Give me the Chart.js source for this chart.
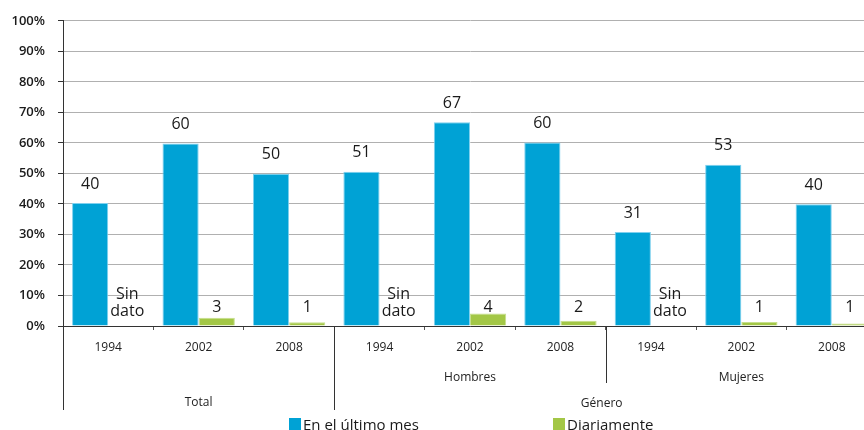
<!DOCTYPE html>
<html>
<head>
<meta charset="utf-8">
<script src="https://cdn.jsdelivr.net/npm/chart.js@4.4.0/dist/chart.umd.min.js"></script>
<style>
  html, body { margin: 0; padding: 0; width: 864px; height: 430px; overflow: hidden; background: #fff; }
  #wrap { position: absolute; left: 0; top: 0; width: 880px; height: 430px; }
  #legend { position: absolute; top: 414px; left: 289px; font-family: "Open Sans", sans-serif; font-size: 15px; color: #1a1a1a; white-space: nowrap; }
  .item { position: absolute; top: 0; display: flex; align-items: center; }
  .sw { width: 12px; height: 12px; margin-right: 2px; }
</style>
</head>
<body>
<div id="wrap"><canvas id="c" width="880" height="430"></canvas></div>
<div id="legend"></div>
<script>
const categories = ['1994', '2002', '2008', '1994', '2002', '2008', '1994', '2002', '2008'];
const groups = ['Total', 'Hombres', 'Mujeres'];
const axisTitle = 'Género';
const seriesNames = ['En el último mes', 'Diariamente'];
const ultimoMes = [40.3, 59.8, 49.9, 50.5, 66.8, 60.1, 30.8, 52.8, 39.9];
const diariamente = [null, 2.7, 1.2, null, 4.1, 1.7, null, 1.3, 0.8];
const noDataText = ['Sin', 'dato'];
const yTicks = [0, 10, 20, 30, 40, 50, 60, 70, 80, 90, 100];

const BLUE = '#00a2d5';
const GREEN = '#a3c746';
const FONT = '"Open Sans", sans-serif';

const labelsPlugin = {
  id: 'labelsPlugin',
  afterDatasetsDraw(chart) {
    const ctx = chart.ctx;
    const y = chart.scales.y;
    const zero = y.getPixelForValue(0);
    const m0 = chart.getDatasetMeta(0);
    ctx.save();
    ctx.fillStyle = '#1a1a1a';
    ctx.font = '16px ' + FONT;
    ctx.textAlign = 'center';
    ctx.textBaseline = 'middle';
    m0.data.forEach((el, i) => {
      const v = ultimoMes[i];
      ctx.fillText(String(Math.round(v)), el.x, el.y - 19);
      const gx = el.x + el.width;
      const g = diariamente[i];
      if (g === null) {
        ctx.fillText(noDataText[0], gx + 1, zero - 32);
        ctx.fillText(noDataText[1], gx + 1, zero - 15);
      } else {
        ctx.fillText(String(Math.round(g)), gx, zero - 19);
      }
    });
    ctx.restore();
  },
  afterDraw(chart) {
    const ctx = chart.ctx;
    const x = chart.scales.x;
    const area = chart.chartArea;
    ctx.save();
    ctx.strokeStyle = '#333';
    ctx.lineWidth = 1;
    ctx.beginPath();
    ctx.moveTo(Math.round(area.left) + 0.5, area.bottom);
    ctx.lineTo(Math.round(area.left) + 0.5, area.bottom + 84);
    ctx.stroke();
    const per = categories.length / groups.length;
    const sepX = [];
    for (let g = 1; g < groups.length; g++) {
      const b = (x.getPixelForValue(g * per - 1) + x.getPixelForValue(g * per)) / 2;
      sepX.push(b);
      ctx.beginPath();
      const len = g === 1 ? 84 : 57;
      ctx.moveTo(Math.round(b) + 0.5, area.bottom);
      ctx.lineTo(Math.round(b) + 0.5, area.bottom + len);
      ctx.stroke();
    }
    ctx.fillStyle = '#222';
    ctx.font = '12px ' + FONT;
    ctx.textAlign = 'center';
    ctx.textBaseline = 'middle';
    groups.forEach((name, g) => {
      const cx = x.getPixelForValue(g * per + (per - 1) / 2);
      const yy = g === 0 ? area.bottom + 77 : area.bottom + 52;
      ctx.fillText(name, cx, yy);
    });
    ctx.fillText(axisTitle, sepX[1] - 4, area.bottom + 78);
    ctx.restore();
  }
};

new Chart(document.getElementById('c'), {
  type: 'bar',
  data: {
    labels: categories,
    datasets: [
      { label: seriesNames[0], data: ultimoMes, backgroundColor: BLUE, borderColor: '#7fd0ee', borderWidth: 1, categoryPercentage: 0.8, barPercentage: 1.0 },
      { label: seriesNames[1], data: diariamente, backgroundColor: GREEN, borderColor: '#c6df8c', borderWidth: 1, categoryPercentage: 0.8, barPercentage: 1.0 }
    ]
  },
  options: {
    responsive: false,
    animation: false,
    layout: { padding: { top: 19, right: 3, left: 0, bottom: 0 } },
    plugins: { legend: { display: false }, tooltip: { enabled: false } },
    scales: {
      x: {
        afterFit(s) { s.height = 104; },
        grid: { display: true, drawOnChartArea: false, drawTicks: true, tickLength: 4, color: '#555' },
        border: { display: true, color: '#333', width: 1 },
        ticks: { color: '#222', font: { family: FONT, size: 12 }, padding: 10, maxRotation: 0, autoSkip: false }
      },
      y: {
        min: 0, max: 100,
        afterFit(s) { s.width = 63; },
        afterBuildTicks(s) { s.ticks = yTicks.map(v => ({ value: v })); },
        grid: { color: '#b0b0b0', borderDash: [2, 2], tickColor: '#333', tickBorderDash: [], tickLength: 5 },
        border: { display: true, color: '#333', width: 1 },
        ticks: { color: '#1a1a1a', font: { family: FONT, size: 13, weight: '600' }, padding: 13, callback: v => v + '%' }
      }
    }
  },
  plugins: [labelsPlugin]
});

const leg = document.getElementById('legend');
const offsets = [0, 264];
[BLUE, GREEN].forEach((c, i) => {
  const it = document.createElement('div');
  it.className = 'item';
  it.style.left = offsets[i] + 'px';
  const sw = document.createElement('span');
  sw.className = 'sw';
  sw.style.background = c;
  const t = document.createElement('span');
  t.textContent = seriesNames[i];
  it.appendChild(sw); it.appendChild(t);
  leg.appendChild(it);
});
</script>
</body>
</html>
